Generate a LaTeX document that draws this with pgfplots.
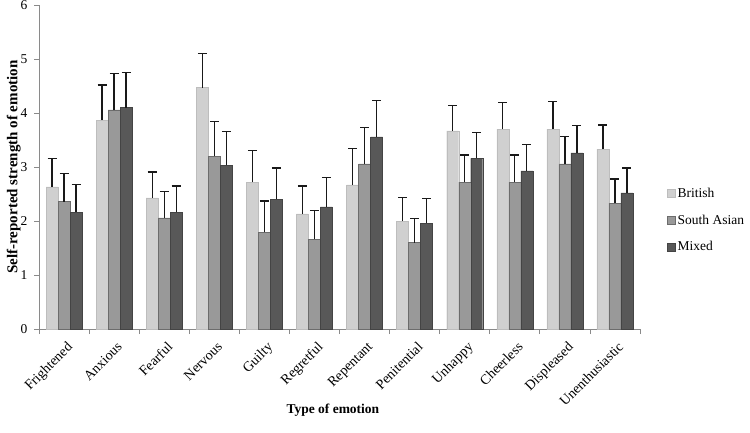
\documentclass[border=0pt]{standalone}
\usepackage{pgfplots}
\pgfplotsset{compat=1.18}
\usepackage{pgfplotstable}
\usepackage{fontspec}
\setmainfont{Liberation Serif}
\definecolor{cB}{HTML}{D0D0D0}
\definecolor{cBd}{HTML}{BDBDBD}
\definecolor{cS}{HTML}{999999}
\definecolor{cSd}{HTML}{6C6C6C}
\definecolor{cM}{HTML}{585858}
\definecolor{cMd}{HTML}{444444}
\definecolor{axgray}{HTML}{8A8A8A}

\pgfplotstableread{
x  b    be   s    se   m    me
0  2.63 0.53 2.36 0.52 2.16 0.52
1  3.87 0.65 4.06 0.67 4.10 0.65
2  2.43 0.48 2.06 0.48 2.16 0.49
3  4.47 0.63 3.20 0.64 3.03 0.63
4  2.72 0.58 1.79 0.58 2.40 0.58
5  2.13 0.52 1.66 0.53 2.26 0.54
6  2.67 0.67 3.06 0.67 3.56 0.67
7  2.00 0.44 1.60 0.44 1.96 0.46
8  3.67 0.47 2.72 0.50 3.16 0.48
9  3.70 0.50 2.72 0.50 2.93 0.49
10 3.70 0.51 3.06 0.51 3.26 0.51
11 3.33 0.45 2.33 0.45 2.52 0.46
}\data

\begin{document}
\begin{tikzpicture}
\begin{axis}[
  scale only axis, width=601pt, height=324pt,
  xmin=-0.5, xmax=11.5, ymin=0, ymax=6,
  ybar=0pt, bar width=12pt,
  axis x line*=bottom, axis y line*=left,
  axis line style={draw=axgray, line width=0.8pt},
  ytick={0,1,2,3,4,5,6},
  xtick={-0.5,0.5,...,11.5},
  x tick label as interval,
  xticklabels={Frightened,Anxious,Fearful,Nervous,Guilty,Regretful,Repentant,Penitential,Unhappy,Cheerless,Displeased,Unenthusiastic},
  xticklabel style={rotate=45, anchor=north east, font=\fontsize{14}{16}\selectfont, xshift=0pt, yshift=-3pt},
  yticklabel style={font=\fontsize{13.5}{15}\selectfont, xshift=-3pt},
  /pgf/number format/assume math mode=true,
  tick style={draw=axgray, line width=0.8pt},
  tick align=outside, major tick length=5pt,
  ylabel={\textbf{Self-reported strength of emotion}},
  xlabel={\textbf{Type of emotion}},
  every axis y label/.style={at={(axis description cs:-0.042,0.5)}, rotate=90, anchor=center, font=\fontsize{15}{17}\selectfont},
  every axis x label/.style={at={(axis description cs:0.489,-0.25)}, anchor=center, font=\fontsize{13.5}{15}\selectfont},
  legend style={at={(1.04,0.336)}, anchor=west, draw=none, fill=none, font=\fontsize{13.5}{15}\selectfont, row sep=12pt, legend cell align=left},
  legend image code/.code={\draw[#1] (0pt,-4pt) rectangle (8pt,4pt);},
  error bars/y dir=plus, error bars/y explicit,
  error bars/error mark=|,
  error bars/error bar style={line width=1.3pt, color=black!90},
  error bars/error mark options={line width=1.3pt, mark size=4.5pt, color=black!90},
]
\addplot[fill=cB, draw=cBd] table[x=x, y=b, y error=be] {\data};
\addplot[fill=cS, draw=cSd] table[x=x, y=s, y error=se] {\data};
\addplot[fill=cM, draw=cMd] table[x=x, y=m, y error=me] {\data};
\legend{British, South Asian, Mixed}
\coordinate (o) at (rel axis cs:0,0);
\end{axis}
\pgfresetboundingbox
\path[use as bounding box] ([shift={(-39pt,-103pt)}]o) rectangle ([shift={(711pt,329pt)}]o);
\end{tikzpicture}
\end{document}
